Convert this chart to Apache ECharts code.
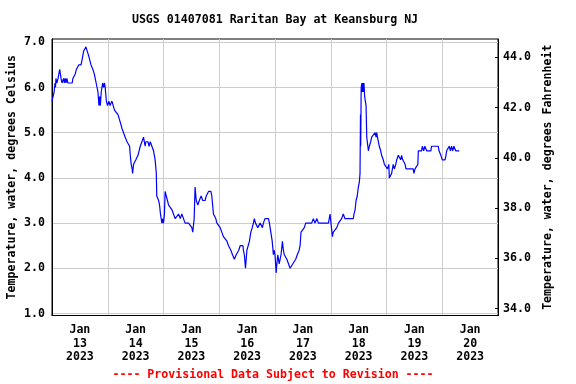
<!DOCTYPE html>
<html><head><meta charset="utf-8">
<script src="https://cdn.jsdelivr.net/npm/echarts@6/dist/echarts.min.js"></script>
<style>html,body{margin:0;padding:0;background:#fff}#c{width:576px;height:384px}</style>
</head><body><div id="c"></div>
<script>
// hours since 2023-01-13 00:00 (local)
const hours = [0.0,0.7,0.9,1.3,1.5,1.7,2.1,2.6,3.3,3.9,4.3,4.6,5.0,5.3,5.7,6.0,6.4,6.8,8.7,9.0,10.0,10.5,11.0,11.5,12.5,12.9,13.6,14.2,14.6,15.3,15.8,16.2,16.8,17.2,17.6,18.2,18.6,19.4,19.8,20.2,20.5,20.8,21.2,21.8,22.2,22.6,22.9,23.4,23.9,24.5,25.0,25.8,26.9,27.5,28.4,29.0,29.7,30.1,30.8,31.5,32.3,33.0,33.4,33.7,34.1,34.5,34.7,35.1,35.6,36.1,37.0,37.5,38.0,38.7,39.4,39.8,40.1,40.4,41.3,41.8,42.3,43.0,43.7,44.4,44.9,45.1,45.4,45.9,46.3,46.7,47.0,47.3,47.7,48.0,48.4,48.7,49.2,49.7,50.2,50.9,51.6,52.3,53.0,53.8,54.5,55.2,55.9,56.6,57.3,58.8,60.2,60.6,61.2,61.6,62.1,62.8,63.4,64.2,64.9,65.9,66.4,67.4,68.4,68.8,69.2,69.5,69.9,70.5,71.0,71.7,72.4,73.1,73.8,74.5,75.3,76.0,76.4,77.0,77.7,78.1,78.5,79.3,80.0,80.4,81.0,82.2,82.4,82.8,83.3,83.6,83.9,84.6,85.0,85.6,86.2,86.7,87.1,87.6,88.2,88.6,89.0,89.6,90.3,90.6,91.0,91.7,93.2,93.6,94.2,94.8,95.3,95.6,96.0,96.5,96.8,97.2,97.8,98.2,98.6,99.2,99.6,100.0,100.6,101.1,101.8,102.5,103.2,103.7,104.2,104.9,105.6,106.4,106.8,107.2,107.8,108.6,109.2,110.4,111.8,112.5,113.2,114.0,114.7,115.4,119.0,119.4,119.7,120.1,120.7,121.1,121.8,122.6,123.3,124.0,124.7,125.4,126.1,126.9,129.7,130.0,130.5,130.9,131.2,131.4,131.9,132.3,132.6,132.8,132.9,133.1,133.4,133.6,133.8,134.0,134.3,134.6,135.0,135.2,135.5,136.2,136.6,137.2,137.6,138.3,139.1,139.5,139.8,140.1,140.5,140.9,141.5,141.9,142.6,143.1,143.7,144.4,145.0,145.2,145.8,146.2,146.9,147.4,148.0,148.4,149.1,149.5,150.1,150.5,151.0,151.5,152.0,152.4,153.4,155.5,155.8,156.3,157.0,157.5,157.7,159.1,159.4,160.0,160.5,160.9,161.3,163.1,163.4,166.3,166.6,167.0,167.4,168.0,169.2,169.6,169.9,170.6,171.0,171.5,172.0,172.5,173.0,173.8,174.2,175.3];
const tempC = [5.7,5.7,5.9,6.1,6.0,6.2,6.1,6.2,6.4,6.2,6.1,6.1,6.2,6.1,6.2,6.1,6.2,6.1,6.1,6.2,6.3,6.4,6.4,6.5,6.5,6.6,6.8,6.8,6.9,6.9,6.7,6.7,6.5,6.5,6.4,6.3,6.2,6.0,5.9,5.6,5.8,5.6,5.9,6.1,6.0,6.1,6.0,5.7,5.6,5.7,5.6,5.7,5.5,5.5,5.4,5.3,5.3,5.1,5.1,4.9,4.8,4.8,4.7,4.5,4.3,4.2,4.1,4.3,4.3,4.4,4.5,4.6,4.7,4.8,4.9,4.9,4.7,4.8,4.8,4.7,4.8,4.8,4.6,4.4,4.1,3.6,3.6,3.5,3.4,3.2,3.1,3.0,3.1,3.0,3.2,3.7,3.6,3.5,3.4,3.4,3.3,3.2,3.1,3.1,3.2,3.1,3.2,3.1,3.0,3.0,2.9,2.8,3.1,3.8,3.5,3.4,3.5,3.6,3.5,3.5,3.6,3.7,3.7,3.6,3.6,3.2,3.2,3.1,3.0,3.0,2.9,2.8,2.7,2.7,2.6,2.5,2.5,2.4,2.3,2.3,2.2,2.3,2.3,2.4,2.5,2.5,2.4,2.3,2.0,2.2,2.4,2.4,2.6,2.8,2.9,3.0,3.1,3.0,3.0,2.9,2.9,3.0,3.0,2.9,3.0,3.1,3.1,3.0,3.0,2.6,2.3,2.4,2.3,1.9,2.1,2.3,2.1,2.2,2.3,2.6,2.4,2.3,2.3,2.2,2.2,2.0,2.0,2.1,2.1,2.2,2.3,2.4,2.5,2.8,2.8,2.9,3.0,3.0,3.0,3.1,3.0,3.1,3.0,3.0,3.0,3.0,3.2,3.0,2.7,2.8,2.8,2.9,3.0,3.0,3.1,3.2,3.1,3.1,3.1,3.2,3.3,3.5,3.5,3.6,3.8,3.9,4.1,5.4,4.7,6.0,6.1,5.9,6.1,5.9,6.1,5.8,5.8,5.6,4.9,4.6,4.7,4.8,4.9,4.9,5.0,4.9,5.0,4.9,4.8,4.7,4.6,4.5,4.4,4.3,4.3,4.2,4.3,4.0,4.0,4.1,4.3,4.2,4.3,4.4,4.5,4.5,4.4,4.5,4.4,4.4,4.3,4.2,4.2,4.2,4.1,4.2,4.2,4.3,4.6,4.6,4.7,4.6,4.7,4.7,4.6,4.6,4.7,4.7,4.6,4.6,4.5,4.4,4.4,4.5,4.6,4.6,4.7,4.6,4.7,4.6,4.7,4.6,4.6,4.6];
const dayLabels = ['13','14','15','16','17','18','19','20'];
const monthLabel = 'Jan';
const yearLabel = '2023';
const celsiusTicks = [1,2,3,4,5,6,7];
const fahrenheitTicks = [34,36,38,40,42,44];
const titleText = 'USGS 01407081 Raritan Bay at Keansburg NJ';
const noteText = '---- Provisional Data Subject to Revision ----';
const leftName = 'Temperature, water, degrees Celsius';
const rightName = 'Temperature, water, degrees Fahrenheit';

const cMin = 0.956, cMax = 7.073;
const fMin = cMin * 1.8 + 32, fMax = cMax * 1.8 + 32;
const labelHours = dayLabels.map((d, i) => 12 + 24 * i);
const FONT = '"DejaVu Sans Mono"';
const FS = 11.6;

const chart = echarts.init(document.getElementById('c'), null, {renderer: 'canvas'});
chart.setOption({
  animation: false,
  backgroundColor: '#fff',
  grid: {left: 52, top: 39, width: 446, height: 276.5, show: true, borderColor: '#000', borderWidth: 1, containLabel: false, outerBoundsMode: 'none'},
  xAxis: {
    type: 'value', min: 0, max: 192, interval: 24,
    axisLine: {show: true, lineStyle: {color: '#000', width: 1}},
    axisTick: {show: false},
    splitLine: {show: true, lineStyle: {color: '#cccccc', width: 1}},
    axisLabel: {
      customValues: labelHours, margin: 8, color: '#000', fontFamily: FONT, fontWeight: 'bold', fontSize: FS, lineHeight: 13.5,
      formatter: v => { const i = Math.round((v - 12) / 24); return monthLabel + '\n' + dayLabels[i] + '\n' + yearLabel; }
    }
  },
  yAxis: [{
    type: 'value', min: cMin, max: cMax, position: 'left',
    name: leftName, nameLocation: 'middle', nameRotate: 90, nameGap: 34, nameMoveOverlap: false,
    nameTextStyle: {color: '#000', fontFamily: FONT, fontWeight: 'bold', fontSize: FS},
    axisLine: {show: true, lineStyle: {color: '#000', width: 1}},
    axisTick: {show: false, customValues: celsiusTicks},
    splitLine: {show: true, lineStyle: {color: '#cccccc', width: 1}},
    axisLabel: {customValues: celsiusTicks, margin: 7, color: '#000', fontFamily: FONT, fontWeight: 'bold', fontSize: FS, formatter: v => v.toFixed(1)}
  }, {
    type: 'value', min: fMin, max: fMax, position: 'right',
    name: rightName, nameLocation: 'middle', nameRotate: 90, nameGap: 44, nameMoveOverlap: false,
    nameTextStyle: {color: '#000', fontFamily: FONT, fontWeight: 'bold', fontSize: FS},
    axisLine: {show: true, lineStyle: {color: '#000', width: 1}},
    axisTick: {show: true, inside: true, length: 3, customValues: fahrenheitTicks, lineStyle: {color: '#000'}},
    splitLine: {show: false},
    axisLabel: {customValues: fahrenheitTicks, margin: 5, color: '#000', fontFamily: FONT, fontWeight: 'bold', fontSize: FS, formatter: v => v.toFixed(1)}
  }],
  graphic: [
    {type: 'text', x: 275, y: 20, style: {text: titleText, align: 'center', verticalAlign: 'middle', fontFamily: FONT, fontWeight: 'bold', fontSize: FS, fill: '#000'}},
    {type: 'text', x: 273, y: 375, style: {text: noteText, align: 'center', verticalAlign: 'middle', fontFamily: FONT, fontWeight: 'bold', fontSize: FS, fill: '#ff0000'}}
  ],
  series: [{
    type: 'line', yAxisIndex: 0, showSymbol: false, symbol: 'none',
    lineStyle: {color: '#0000ff', width: 1.2}, itemStyle: {color: '#0000ff'},
    data: hours.map((h, i) => [h, tempC[i]])
  }]
});
</script></body></html>
